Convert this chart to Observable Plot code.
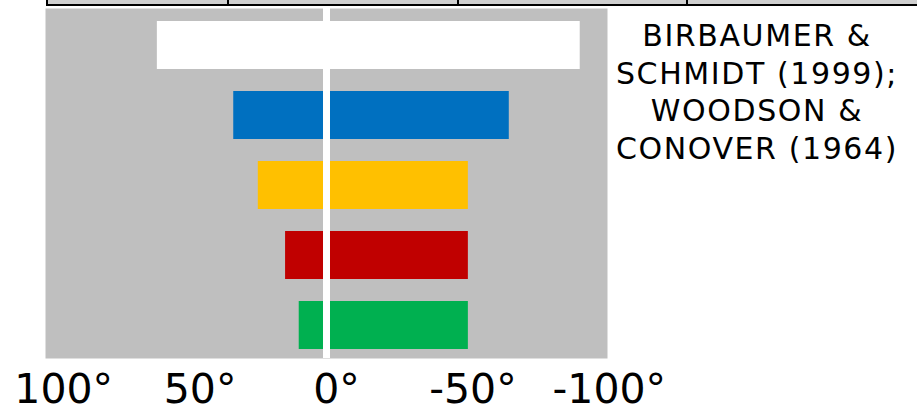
<!DOCTYPE html>
<html>
<head>
<meta charset="utf-8">
<script src="https://cdn.jsdelivr.net/npm/d3@7"></script>
<script src="https://cdn.jsdelivr.net/npm/@observablehq/plot@0.6"></script>
<style>
  html, body { margin: 0; padding: 0; background: #ffffff; }
  #wrap { position: relative; width: 917px; height: 404px; overflow: hidden; font-family: "DejaVu Sans", Verdana, sans-serif; }
  #chart { position: absolute; left: 0; top: 0; }
  #tablestrip { position: absolute; left: 46px; top: 0; width: 880px; height: 4px; background: #cfcfcf; border-bottom: 2px solid #000; border-left: 2px solid #000; display: flex; }
  #tablestrip div { height: 4px; border-right: 2px solid #000; box-sizing: border-box; }
  #source { position: absolute; left: 597px; width: 320px; top: 17px; text-align: center; font-size: 30px; line-height: 37.6px; letter-spacing: 1.6px; color: #000; }
</style>
</head>
<body>
<div id="wrap">
  <div id="chart"></div>
  <div id="tablestrip"><div style="width:181px"></div><div style="width:230px"></div><div style="width:229px"></div></div>
  <div id="source"></div>
</div>
<script>
// Data
const rows = ["row1", "row2", "row3", "row4", "row5"];
const upper = [62, 34, 25, 15, 10];      // degrees (left end)
const lower = [-93, -67, -52, -52, -52]; // degrees (right end)
const barColors = ["#ffffff", "#0070c0", "#ffc000", "#c00000", "#00b050"];
const tickValues = [100, 50, 0, -50, -100];
const sourceLines = ["BIRBAUMER &", "SCHMIDT (1999);", "WOODSON &", "CONOVER (1964)"];

const data = rows.map((r, i) => ({row: r, upper: upper[i], lower: lower[i]}));

const chart = Plot.plot({
  width: 917,
  height: 404,
  marginLeft: 45,
  marginRight: 310,
  marginTop: 8,
  marginBottom: 46,
  style: {fontFamily: "'DejaVu Sans', Verdana, sans-serif", background: "transparent", color: "#000"},
  x: {domain: [103, -103]},
  y: {domain: rows, paddingInner: 0.32, paddingOuter: 0.13, align: 0.6, axis: null},
  color: {domain: rows, range: barColors},
  marks: [
    Plot.frame({fill: "#bfbfbf", stroke: null}),
    Plot.barX(data, {x1: "upper", x2: "lower", y: "row", fill: "row"}),
    Plot.ruleX([0], {stroke: "#ffffff", strokeWidth: 7}),
    Plot.axisX({ticks: tickValues, tickSize: 0, tickPadding: 15, fontSize: 41, dx: 10,
      tickFormat: d => `${d}°`, label: null})
  ]
});
document.getElementById("chart").appendChild(chart);

const src = document.getElementById("source");
sourceLines.forEach(t => { const d = document.createElement("div"); d.textContent = t; src.appendChild(d); });
</script>
</body>
</html>
